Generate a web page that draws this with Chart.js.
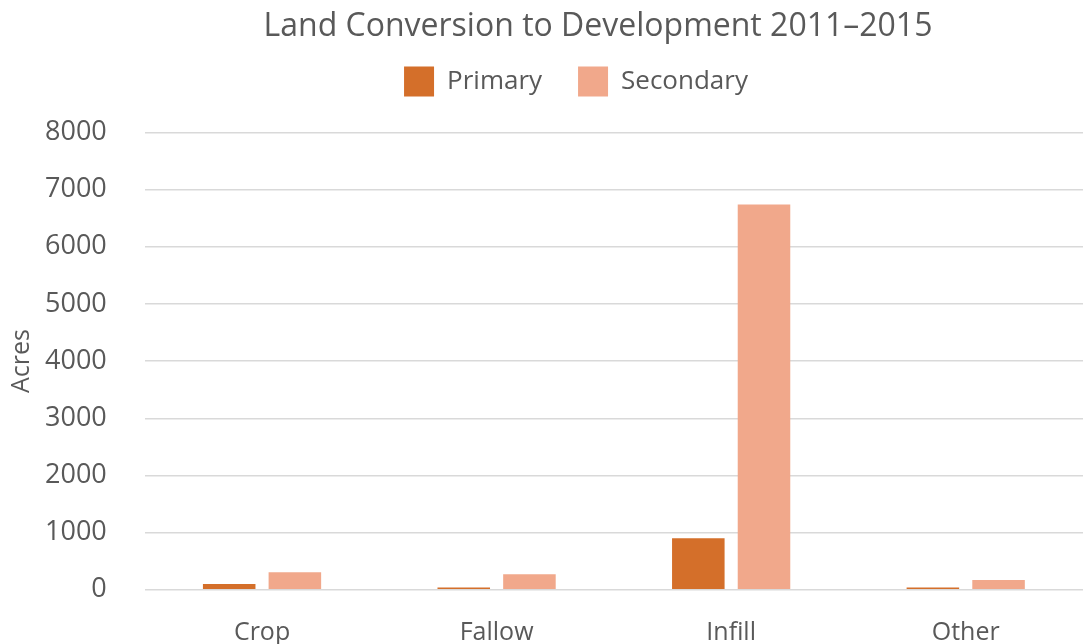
<!DOCTYPE html>
<html>
<head>
<meta charset="utf-8">
<script src="https://cdn.jsdelivr.net/npm/chart.js@4/dist/chart.umd.min.js"></script>
<style>
  html, body { margin: 0; padding: 0; background: #fff; }
  #wrap { width: 1083px; height: 644px; }
</style>
</head>
<body>
<div id="wrap"><canvas id="myChart" width="1083" height="644"></canvas></div>
<script>
const categories = ["Crop", "Fallow", "Infill", "Other"];
const primary = [100, 40, 900, 40];
const secondary = [305, 270, 6740, 170];
const yTicks = [0, 1000, 2000, 3000, 4000, 5000, 6000, 7000, 8000];

const textColor = "#595959";
const font = "'Open Sans', 'Noto Sans', sans-serif";

// title and legend sit a little right of the canvas centre,
// and the legend keeps extra room below it
const headerPlacement = {
  id: "headerPlacement",
  beforeInit(chart) {
    const legend = chart.legend;
    const fit = legend.fit;
    legend.fit = function () {
      fit.call(this);
      this.height += 26;
    };
  },
  afterLayout(chart) {
    const centre = (box, x) => {
      const dx = x - (box.left + box.right) / 2;
      box.left += dx;
      box.right += dx;
    };
    centre(chart.titleBlock, 598);
    centre(chart.legend, 576);
  },
};

new Chart(document.getElementById("myChart").getContext("2d"), {
  type: "bar",
  data: {
    labels: categories,
    datasets: [
      {
        label: "Primary",
        data: primary,
        backgroundColor: "#D46F2A",
        categoryPercentage: 0.56,
        barPercentage: 0.8,
      },
      {
        label: "Secondary",
        data: secondary,
        backgroundColor: "#F1A88B",
        categoryPercentage: 0.56,
        barPercentage: 0.8,
      },
    ],
  },
  plugins: [headerPlacement],
  options: {
    responsive: false,
    animation: false,
    layout: { padding: { left: 7, right: 0, top: 8, bottom: -32 } },
    plugins: {
      title: {
        display: true,
        text: "Land Conversion to Development 2011\u20132015",
        color: textColor,
        font: { family: font, size: 32, weight: "normal" },
        padding: { top: 0, bottom: -16 },
      },
      legend: {
        labels: {
          color: textColor,
          font: { family: font, size: 26 },
          boxWidth: 30,
          boxHeight: 30,
          padding: 36,
        },
      },
      tooltip: { enabled: false },
    },
    scales: {
      x: {
        grid: { display: false, drawTicks: false },
        border: { display: false },
        ticks: {
          color: textColor,
          font: { family: font, size: 25 },
          padding: 28,
        },
      },
      y: {
        min: 0,
        max: 8000,
        afterBuildTicks: (axis) => {
          axis.ticks = yTicks.map((v) => ({ value: v }));
        },
        afterFit: (axis) => {
          axis.width -= 38;
        },
        grid: { color: "#D9D9D9", lineWidth: 1.5, drawTicks: false },
        border: { display: false },
        ticks: {
          color: textColor,
          font: { family: font, size: 27 },
          padding: 38,
          callback: (v) => String(v),
        },
        title: {
          display: true,
          text: "Acres",
          color: textColor,
          font: { family: font, size: 25 },
          padding: { top: 0, bottom: 8 },
        },
      },
    },
  },
});
</script>
</body>
</html>
